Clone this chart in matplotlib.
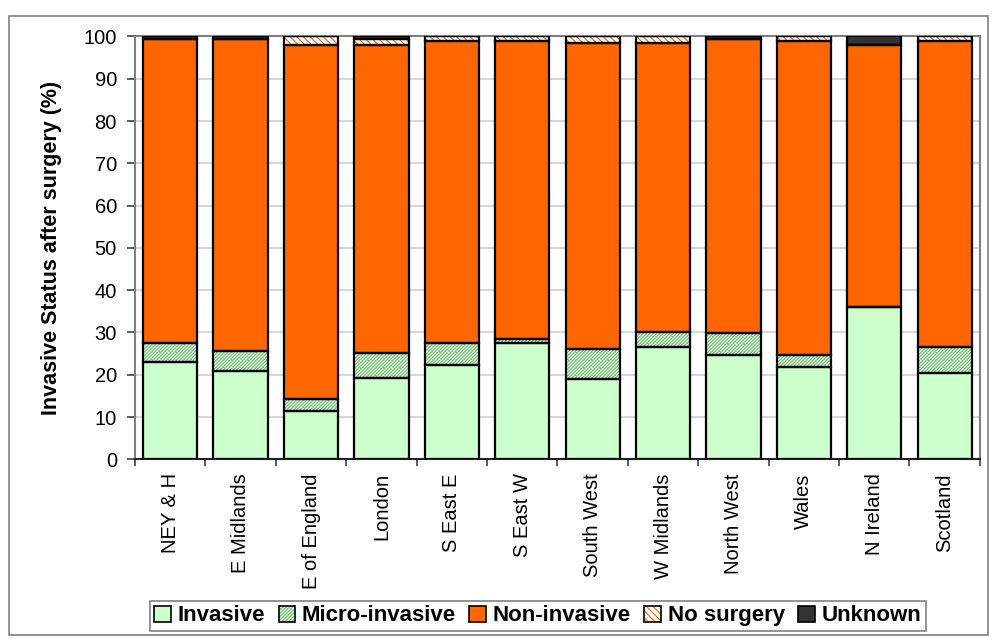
import matplotlib
matplotlib.use("Agg")
import matplotlib.pyplot as plt
import numpy as np
from matplotlib.patches import Patch, Rectangle

plt.rcParams['font.family'] = ['Liberation Sans', 'DejaVu Sans']

regions = ['NEY & H', 'E Midlands', 'E of England', 'London', 'S East E', 'S East W',
           'South West', 'W Midlands', 'North West', 'Wales', 'N Ireland', 'Scotland']
invasive = [23.1, 20.9, 11.5, 19.3, 22.2, 27.6, 19.0, 26.6, 24.7, 21.8, 36.0, 20.3]
micro = [4.3, 4.7, 2.7, 5.8, 5.2, 0.8, 7.0, 3.6, 5.1, 2.8, 0.0, 6.2]
non_invasive = [71.9, 73.8, 83.8, 72.9, 71.5, 70.6, 72.5, 68.3, 69.6, 74.4, 61.9, 72.5]
no_surgery = [0.0, 0.0, 2.0, 1.3, 1.1, 1.0, 1.5, 1.5, 0.0, 1.0, 0.0, 1.0]
unknown = [0.7, 0.6, 0.0, 0.7, 0.0, 0.0, 0.0, 0.0, 0.6, 0.0, 2.1, 0.0]

series = [
    ('Invasive', invasive, '#CCFFCC', None, '#CCFFCC'),
    ('Micro-invasive', micro, '#CCFFCC', '//////////', '#8FAF8F'),
    ('Non-invasive', non_invasive, '#FF6600', None, '#FF6600'),
    ('No surgery', no_surgery, 'white', '\\\\\\\\\\', '#FF6600'),
    ('Unknown', unknown, '#333333', None, '#333333'),
]

plt.rcParams['hatch.linewidth'] = 0.8

fig = plt.figure(figsize=(9.94, 6.39), dpi=100)
ax = fig.add_axes([0.1358, 0.2812, 0.850, 0.6617])

x = np.arange(len(regions))
w = 0.77
bottom = np.zeros(len(regions))
handles = []
for name, vals, face, hatch, hcol in series:
    vals = np.array(vals)
    ax.bar(x, vals, w, bottom=bottom, color=face, edgecolor=hcol, hatch=hatch,
           linewidth=0, zorder=2)
    ax.bar(x, vals, w, bottom=bottom, facecolor='none', edgecolor='black',
           linewidth=1.6, zorder=3)
    bottom += vals
    h1 = Patch(facecolor=face, edgecolor=hcol, hatch=hatch, linewidth=0)
    h2 = Patch(facecolor='none', edgecolor='black', linewidth=1.2)
    handles.append((h1, h2))

ax.set_xlim(-0.5, len(regions) - 0.5)
ax.set_ylim(0, 100)
ax.set_yticks(np.arange(0, 101, 10))
ax.yaxis.grid(True, color='#D0D0D0', linewidth=1.2, zorder=0)
ax.set_axisbelow(True)

ax.set_xticks(x)
ax.set_xticklabels(regions, rotation=90, fontsize=14.5)
ax.set_xticks(np.arange(-0.5, len(regions), 1), minor=True)
ax.tick_params(axis='x', which='major', length=0, pad=10)
ax.tick_params(axis='x', which='minor', length=5, width=1.2, color='#404040')
ax.tick_params(axis='y', labelsize=14.5, length=6, width=1.2, color='#404040', pad=7)

for s in ['top', 'right', 'left']:
    ax.spines[s].set_color('#808080')
    ax.spines[s].set_linewidth(1.5)
ax.spines['bottom'].set_color('#202020')
ax.spines['bottom'].set_linewidth(1.5)

fig.text(0.052, 0.612, 'Invasive Status after surgery (%)', rotation=90,
         ha='center', va='center', fontsize=15.5, fontweight='bold')

leg = fig.legend(handles, [s[0] for s in series], loc='center',
                 bbox_to_anchor=(0.541, 0.036), bbox_transform=fig.transFigure,
                 ncol=5, fancybox=False, edgecolor='#808080', framealpha=1,
                 prop={'weight': 'bold', 'size': 16}, handlelength=0.75,
                 handleheight=0.75, handletextpad=0.3, columnspacing=0.6,
                 borderpad=0.2, borderaxespad=0)
leg.get_frame().set_linewidth(1.2)

fig.patches.append(Rectangle((0.009, 0.006), 0.985, 0.969, transform=fig.transFigure,
                             fill=False, edgecolor='#808080', linewidth=1.2))

fig.savefig('out.png', dpi=100)
